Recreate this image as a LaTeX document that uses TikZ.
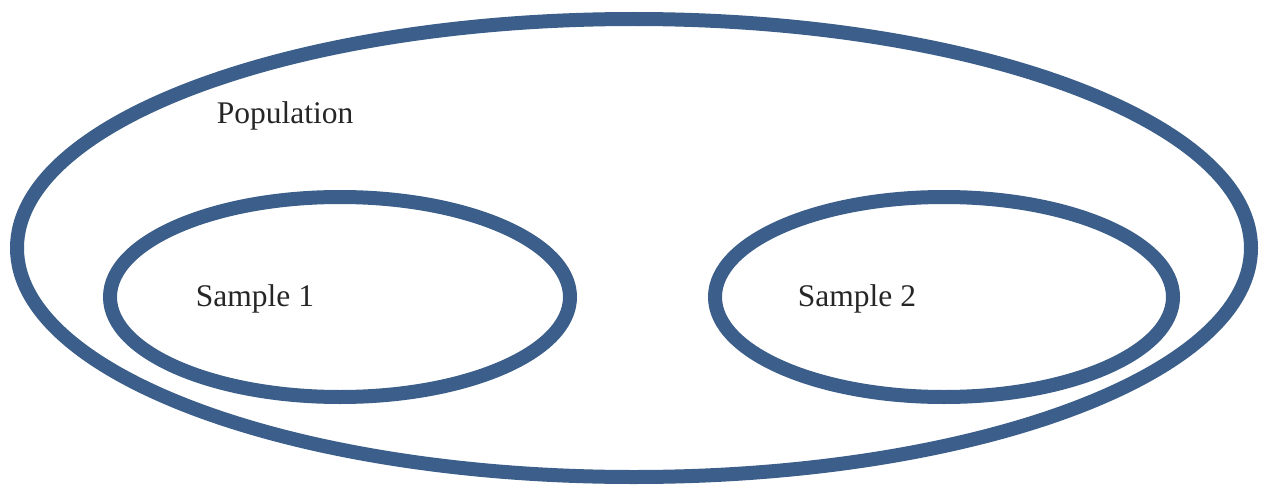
\documentclass[tikz,border=0pt]{standalone}
\usepackage{fontspec}
\setmainfont{Liberation Serif}
\definecolor{ringblue}{RGB}{59,94,138}
\tikzset{ring/.style={draw=ringblue,line width=14pt},
  lbl/.style={font=\fontsize{31.5}{36}\selectfont,text=black!85,inner sep=0pt}}
\begin{document}
\begin{tikzpicture}[x=1pt,y=-1pt]
\useasboundingbox (0,0) rectangle (1268,487);
\draw[ring] (634,248) ellipse [x radius=617,y radius=229];
\draw[ring] (340,297) ellipse [x radius=230,y radius=100];
\draw[ring] (944,297) ellipse [x radius=229,y radius=100];
\node[lbl] (pop) at (285,116) {Population};
\node[lbl] (s1) at (255,299) {Sample 1};
\node[lbl] (s2) at (857,299) {Sample 2};
\end{tikzpicture}
\end{document}
